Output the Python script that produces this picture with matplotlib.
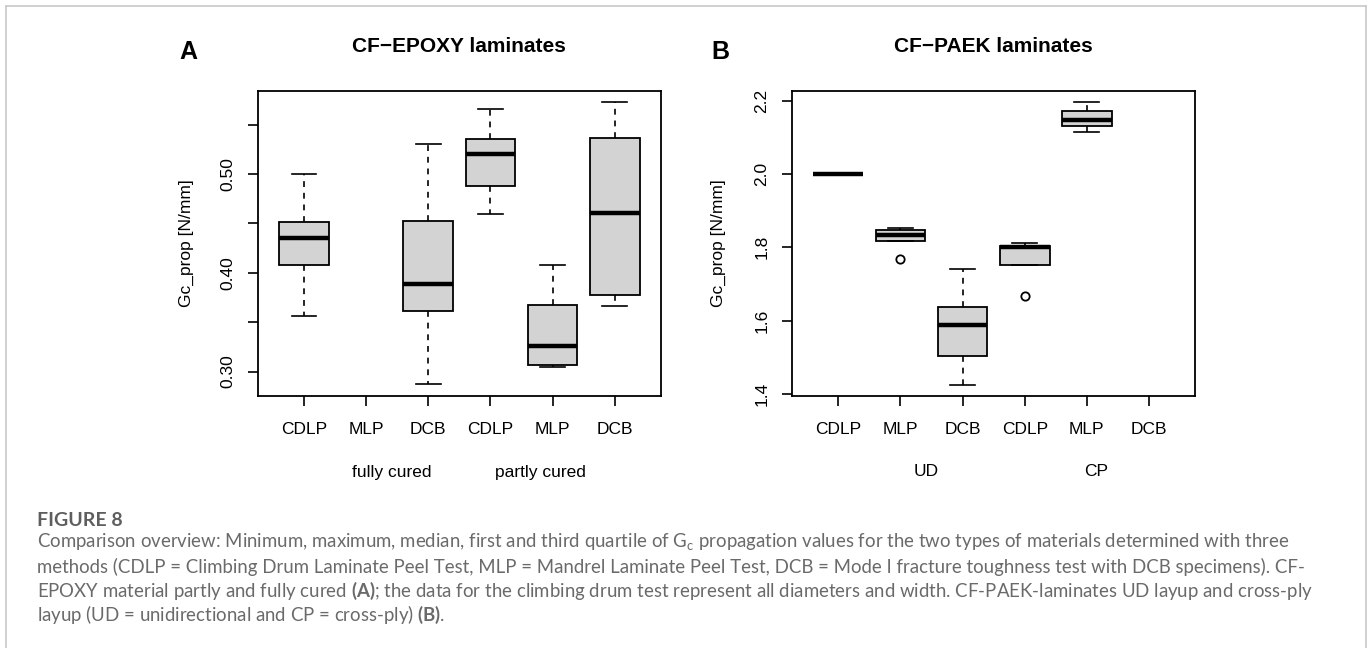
import matplotlib
matplotlib.use("Agg")
import matplotlib.pyplot as plt
from matplotlib.lines import Line2D
import matplotlib.transforms as mtransforms

# ---------------- DATA ----------------
methods = ["CDLP", "MLP", "DCB", "CDLP", "MLP", "DCB"]

epoxy_groups = ["fully cured", "partly cured"]
epoxy_min = [0.356, None, 0.287, 0.460, 0.305, 0.366]
epoxy_q1 = [0.408, None, 0.361, 0.488, 0.307, 0.377]
epoxy_med = [0.435, None, 0.389, 0.520, 0.326, 0.461]
epoxy_q3 = [0.451, None, 0.452, 0.535, 0.367, 0.536]
epoxy_max = [0.500, None, 0.530, 0.566, 0.408, 0.573]
epoxy_out = [[], [], [], [], [], []]

paek_groups = ["UD", "CP"]
paek_min = [2.000, 1.818, 1.426, 1.751, 2.114, None]
paek_q1 = [2.000, 1.818, 1.503, 1.751, 2.130, None]
paek_med = [2.000, 1.833, 1.589, 1.801, 2.148, None]
paek_q3 = [2.000, 1.848, 1.637, 1.804, 2.171, None]
paek_max = [2.000, 1.852, 1.740, 1.812, 2.195, None]
paek_out = [[], [1.767], [], [1.668], [], []]

epoxy_yticks = [0.30, 0.35, 0.40, 0.45, 0.50, 0.55]
epoxy_yticklabels = ["0.30", "", "0.40", "", "0.50", ""]
paek_yticks = [1.4, 1.6, 1.8, 2.0, 2.2]
paek_yticklabels = ["1.4", "1.6", "1.8", "2.0", "2.2"]

caption_head = "FIGURE 8"
caption_lines = [
    r"Comparison overview: Minimum, maximum, median, first and third quartile of G$_\mathregular{c}$ propagation values for the two types of materials determined with three",
    "methods (CDLP = Climbing Drum Laminate Peel Test, MLP = Mandrel Laminate Peel Test, DCB = Mode I fracture toughness test with DCB specimens). CF-",
    r"EPOXY material partly and fully cured $\mathbf{(A)}$; the data for the climbing drum test represent all diameters and width. CF-PAEK-laminates UD layup and cross-ply",
    r"layup (UD = unidirectional and CP = cross-ply) $\mathbf{(B)}$.",
]

# ---------------- STYLE ----------------
plt.rcParams["font.family"] = ["Liberation Sans", "DejaVu Sans"]
plt.rcParams["mathtext.fontset"] = "custom"
plt.rcParams["mathtext.rm"] = "Lato"
plt.rcParams["mathtext.bf"] = "Lato:bold"

W, H = 1370, 648
fig = plt.figure(figsize=(W / 100, H / 100), dpi=100)
fig.patch.set_facecolor("white")

def px_axes(l, t, r, b):
    return fig.add_axes([l / W, 1 - b / H, (r - l) / W, (b - t) / H])

axA = px_axes(258, 91, 660.7, 396)
axB = px_axes(792.3, 91, 1195, 396)

def make_stats(mins, q1s, meds, q3s, maxs, outs):
    stats, pos = [], []
    for i in range(len(mins)):
        if mins[i] is None:
            continue
        stats.append(dict(whislo=mins[i], q1=q1s[i], med=meds[i], q3=q3s[i],
                          whishi=maxs[i], fliers=outs[i]))
        pos.append(i + 1)
    return stats, pos

def draw_panel(ax, stats, pos, ylim, yticks, yticklabels, title, letter,
               groups, group_x, ylabel_x):
    ax.bxp(stats, positions=pos, widths=0.8, capwidths=0.4,
           patch_artist=True, showfliers=True,
           boxprops=dict(facecolor="#d3d3d3", edgecolor="black", linewidth=1.3),
           medianprops=dict(color="black", linewidth=3.2, solid_capstyle="butt"),
           whiskerprops=dict(color="black", linewidth=1.2, linestyle=(0, (3.5, 3.5))),
           capprops=dict(color="black", linewidth=1.2),
           flierprops=dict(marker="o", markerfacecolor="none", markeredgecolor="black",
                           markersize=6, markeredgewidth=1.3))
    ax.set_xlim(0.26, 6.74)
    ax.set_ylim(*ylim)
    ax.set_xticks(range(1, len(methods) + 1))
    ax.set_xticklabels(methods, fontsize=12.5)
    ax.set_yticks(yticks)
    ax.set_yticklabels(yticklabels, fontsize=12.5, rotation=90, va="center")
    ax.tick_params(axis="x", direction="out", length=7.5, width=1.2, pad=11)
    ax.tick_params(axis="y", direction="out", length=7.5, width=1.2, pad=9)
    for s in ax.spines.values():
        s.set_linewidth(1.3)
    bb = ax.get_position()
    fig.text(bb.x0 + bb.width / 2, 1 - 47 / H, title, ha="center", va="center",
             fontsize=15, fontweight="bold")
    fig.text(letter[1] / W, 1 - 52 / H, letter[0], ha="center", va="center",
             fontsize=18, fontweight="bold")
    fig.text(ylabel_x / W, bb.y0 + bb.height / 2, "Gc_prop [N/mm]", ha="center",
             va="center", rotation=90, fontsize=12.5)
    trans = mtransforms.blended_transform_factory(ax.transData, ax.transAxes)
    for g, gx in zip(groups, group_x):
        ax.text(gx, -76 / 305, g, transform=trans, ha="center", va="center",
                fontsize=12.5)

sA, pA = make_stats(epoxy_min, epoxy_q1, epoxy_med, epoxy_q3, epoxy_max, epoxy_out)
draw_panel(axA, sA, pA, (0.2752, 0.5841), epoxy_yticks, epoxy_yticklabels,
           "CF\u2212EPOXY laminates", ("A", 188), epoxy_groups, [2.42, 4.80], 186)

sB, pB = make_stats(paek_min, paek_q1, paek_med, paek_q3, paek_max, paek_out)
draw_panel(axB, sB, pB, (1.395, 2.226), paek_yticks, paek_yticklabels,
           "CF\u2212PAEK laminates", ("B", 720), paek_groups, [2.42, 5.15], 718)

# ---------------- CAPTION ----------------
cap_col = "#6a6a6a"
fig.text(36.7 / W, 1 - 520 / H, caption_head, ha="left", va="center",
         fontsize=14, fontweight="bold", color="#5e5e5e", family=["Lato", "DejaVu Sans"])
for i, (line, yc) in enumerate(zip(caption_lines, [542.7, 566.7, 590.7, 615.0])):
    fig.text(36.7 / W, 1 - yc / H, line, ha="left", va="center",
             fontsize=13.4, color=cap_col, family=["Lato", "DejaVu Sans"])

# ---------------- FRAME ----------------
fc = "#c8c8c8"
fig.add_artist(Line2D([6 / W, 6 / W], [0, 1 - 6 / H], transform=fig.transFigure, color=fc, lw=1.2))
fig.add_artist(Line2D([6 / W, 1366 / W], [1 - 6 / H, 1 - 6 / H], transform=fig.transFigure, color=fc, lw=1.2))
fig.add_artist(Line2D([1366 / W, 1366 / W], [0, 1 - 6 / H], transform=fig.transFigure, color=fc, lw=1.2))

fig.savefig("out.png", dpi=100)
